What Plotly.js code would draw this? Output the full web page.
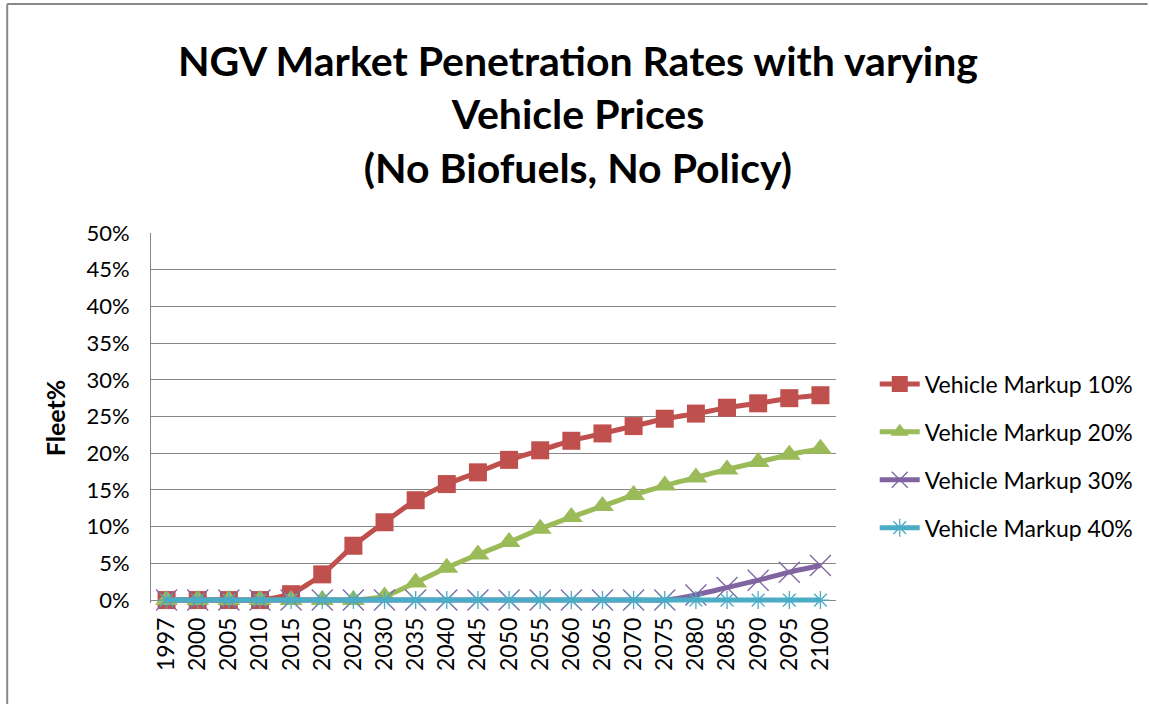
<!DOCTYPE html>
<html>
<head>
<meta charset="utf-8">
<script src="https://cdn.plot.ly/plotly-3.0.1.min.js"></script>
<style>
html,body{margin:0;padding:0;background:#fff;}
#chart{width:1149px;height:704px;}
</style>
</head>
<body>
<div id="chart"></div>
<script>
const years = ['1997','2000','2005','2010','2015','2020','2025','2030','2035','2040','2045','2050','2055','2060','2065','2070','2075','2080','2085','2090','2095','2100'];
const markup10 = [0,0,0,0,0.8,3.5,7.4,10.6,13.6,15.8,17.4,19.1,20.4,21.7,22.7,23.7,24.7,25.4,26.2,26.8,27.5,27.9];
const markup20 = [0,0,0,0,0,0,0,0.5,2.4,4.4,6.2,7.9,9.7,11.3,12.8,14.3,15.6,16.7,17.8,18.8,19.8,20.6];
const markup30 = [0,0,0,0,0,0,0,0,0,0,0,0,0,0,0,0,0,0.7,1.7,2.7,3.8,4.7];
const markup40 = [0,0,0,0,0,0,0,0,0,0,0,0,0,0,0,0,0,0,0,0,0,0];
const seriesNames = ['Vehicle Markup 10%','Vehicle Markup 20%','Vehicle Markup 30%','Vehicle Markup 40%'];
const yTickVals = [0,5,10,15,20,25,30,35,40,45,50];
const yTickLabels = ['0%','5%','10%','15%','20%','25%','30%','35%','40%','45%','50%'];
const titleText = 'NGV Market Penetration Rates with varying<br>Vehicle Prices<br>(No Biofuels, No Policy)';
const yTitle = 'Fleet%';

const FONT = 'Lato, "Open Sans", sans-serif';
const traces = [
  {x: years, y: markup10, name: seriesNames[0], legendgroup:'a', type:'scatter', mode:'lines+markers',
   line:{color:'#C0504D', width:5, shape:'spline', smoothing:0.5},
   marker:{symbol:'square', size:18, color:'#C0504D'}, cliponaxis:false},
  {x: years, y: markup20, name: seriesNames[1], legendgroup:'b', type:'scatter', mode:'lines+markers',
   line:{color:'#9BBB59', width:5, shape:'spline', smoothing:0.5},
   marker:{symbol:'triangle-up', size:20, color:'#9BBB59'}, cliponaxis:false},
  {x: years, y: markup30, name: seriesNames[2], legendgroup:'c', type:'scatter', mode:'lines+markers',
   line:{color:'#8064A2', width:5, shape:'spline', smoothing:0.5},
   marker:{symbol:'x-thin-open', size:21, color:'#8064A2', line:{color:'#8064A2', width:1.3}}, cliponaxis:false},
  {x: years, y: markup40, name: seriesNames[3], legendgroup:'d', type:'scatter', mode:'lines+markers',
   line:{color:'#4BACC6', width:5, shape:'spline', smoothing:0.5},
   marker:{symbol:'asterisk-open', size:15, color:'#4BACC6', line:{color:'#4BACC6', width:1.3}}, cliponaxis:false}
];

const layout = {
  width:1149, height:704,
  margin:{l:151, r:312, t:233, b:101},
  paper_bgcolor:'#fff', plot_bgcolor:'#fff',
  font:{family:FONT, color:'#000'},
  showlegend:true,
  title:{text:titleText, font:{family:FONT, size:41, weight:700, color:'#000'},
         xref:'container', x:0.503, xanchor:'center', yref:'container', y:0.892, yanchor:'middle'},
  xaxis:{type:'category', range:[-0.5,21.5], tickangle:-90, tickfont:{size:23, family:FONT},
         showgrid:false, showline:false, ticks:'', ticklabelstandoff:9,
         zeroline:false, fixedrange:true},
  yaxis:{range:[-0.4,50], tickmode:'array', tickvals:yTickVals, ticktext:yTickLabels, tickfont:{size:22, family:FONT},
         showgrid:true, gridcolor:'#868686', gridwidth:1, showline:true, linecolor:'#868686', linewidth:1,
         ticks:'', ticklabelstandoff:16, zeroline:false, fixedrange:true,
         title:{text:yTitle, font:{size:25, family:FONT, weight:700}, standoff:13}},
  legend:{x:1.055, xanchor:'left', y:0.65, yanchor:'top', font:{size:23, family:FONT},
          traceorder:'grouped', tracegroupgap:15, itemwidth:40, bgcolor:'rgba(0,0,0,0)'},
  shapes:[
    {type:'line', xref:'paper', yref:'paper', x0:(7-151)/686, x1:(1149-151)/686, y0:(603-4)/370, y1:(603-4)/370,
     line:{color:'#888', width:2}},
    {type:'line', xref:'paper', yref:'paper', x0:(7-151)/686, x1:(7-151)/686, y0:(603-4)/370, y1:(603-704)/370,
     line:{color:'#888', width:2}}
  ]
};

Plotly.newPlot('chart', traces, layout, {staticPlot:true, displayModeBar:false});
</script>
</body>
</html>
